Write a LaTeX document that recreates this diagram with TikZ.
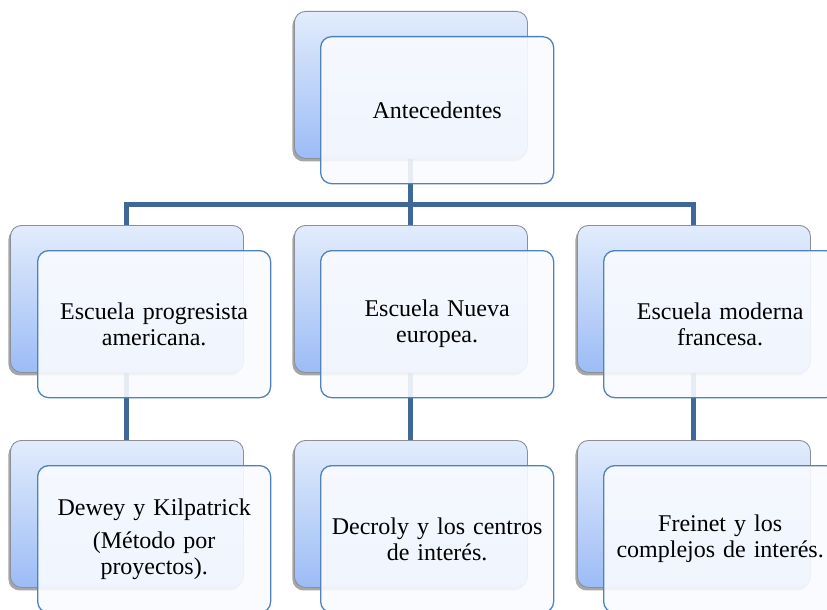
\documentclass[tikz,border=0pt]{standalone}
\usepackage{fontspec}
\setmainfont{Liberation Serif}
\usetikzlibrary{shadows}
\pgfdeclarelayer{bg}
\pgfsetlayers{bg,main}
\definecolor{connc}{HTML}{3F6797}
\definecolor{backtop}{HTML}{E2ECFC}
\definecolor{backbot}{HTML}{9CBCF6}
\definecolor{backline}{HTML}{8A8F98}
\definecolor{frontfill}{HTML}{F9FBFF}
\definecolor{frontline}{HTML}{4F81BD}
\tikzset{
  backbox/.style={rectangle, rounded corners=11pt, anchor=north west,
    minimum width=233pt, minimum height=147pt, inner sep=0pt,
    top color=backtop, bottom color=backbot, draw=backline, line width=0.9pt,
    drop shadow={shadow xshift=-2pt, shadow yshift=-3pt, fill=black, opacity=0.35}},
  frontbox/.style={rectangle, rounded corners=11pt, anchor=north west,
    minimum width=233pt, minimum height=147pt, inner sep=4pt,
    text width=224pt, align=center, fill=frontfill, fill opacity=0.9,
    text opacity=1, draw=frontline, draw opacity=1, line width=1.3pt,
    font=\fontsize{24}{26}\selectfont},
  conn/.style={draw=connc, line width=5pt}
}
\begin{document}
\begin{tikzpicture}[x=1pt,y=-1pt]
\useasboundingbox (0,0) rectangle (827,610);
\clip (0,0) rectangle (827,610);
% back boxes
\node[backbox] (b0) at (294,11) {};
\node[backbox] (b1) at (10,225) {};
\node[backbox] (b2) at (294,225) {};
\node[backbox] (b3) at (577,225) {};
\node[backbox] (c1) at (10,440) {};
\node[backbox] (c2) at (294,440) {};
\node[backbox] (c3) at (577,440) {};
% connectors
\coordinate (bar) at (b0.south |- 0,204);
\begin{pgfonlayer}{bg}
\draw[conn] (b0.south) -- (bar);
\draw[conn] (b1.north) |- (bar) -| (b3.north);
\draw[conn] (bar) -- (b2.north);
\draw[conn] (b1.south) -- (c1.north);
\draw[conn] (b2.south) -- (c2.north);
\draw[conn] (b3.south) -- (c3.north);
\end{pgfonlayer}
% front boxes
\node[frontbox] (f0) at (320,36) {Antecedentes};
\node[frontbox] (f1) at (37,250) {Escuela progresista\\americana.};
\node[frontbox] (f2) at (320,250) {Escuela Nueva\\europea.};
\node[frontbox] (f3) at (603,250) {Escuela moderna\\francesa.};
\node[frontbox] (g1) at (37,465) {Dewey y Kilpatrick\\[7pt](Método por\\proyectos).};
\node[frontbox] (g2) at (320,465) {Decroly y los centros\\de interés.};
\node[frontbox] (g3) at (603,465) {Freinet y los\\complejos de interés.};
\end{tikzpicture}
\end{document}
